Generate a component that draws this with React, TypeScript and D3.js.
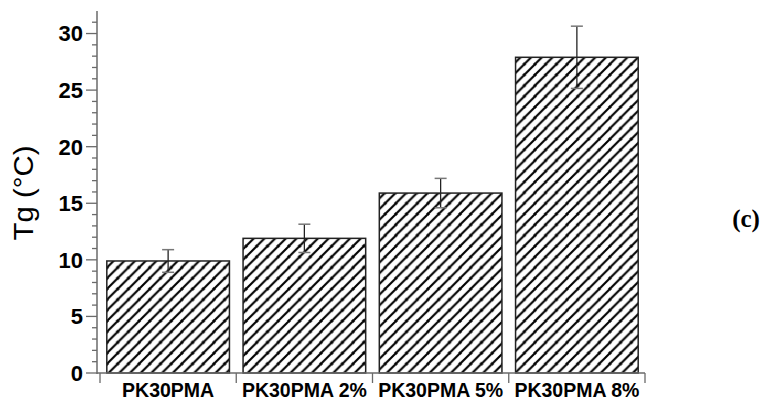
import { useEffect, useRef } from "react";
import * as d3 from "d3";

const categories = ["PK30PMA", "PK30PMA 2%", "PK30PMA 5%", "PK30PMA 8%"];
const tgValues = [9.9, 11.9, 15.9, 27.9];
const tgErrors = [1.0, 1.25, 1.3, 2.75];
const yTicks = [0, 5, 10, 15, 20, 25, 30];

export default function App() {
  const svgRef = useRef<SVGSVGElement>(null);

  useEffect(() => {
    if (!svgRef.current) return;
    const svg = d3.select(svgRef.current);
    svg.selectAll("*").remove();

    const y = d3.scaleLinear().domain([0, 32]).range([373, 10.9]);
    const x = d3.scaleBand<string>()
      .domain(categories)
      .range([100, 645])
      .paddingInner(0.1)
      .paddingOuter(0.05);

    const sans = "'Liberation Sans', Arial, sans-serif";

    // hatch pattern
    const defs = svg.append("defs");
    const pat = defs.append("pattern")
      .attr("id", "hatch")
      .attr("patternUnits", "userSpaceOnUse")
      .attr("width", 10.7)
      .attr("height", 10.7);
    pat.append("rect").attr("width", 10.7).attr("height", 10.7).attr("fill", "#fff");
    pat.append("path")
      .attr("d", "M-2,2.7 L2.7,-2 M0,10.7 L10.7,0 M8,12.7 L12.7,8")
      .attr("stroke", "#000")
      .attr("stroke-width", 2.1);

    // bars
    svg.append("g")
      .selectAll("rect")
      .data(categories)
      .enter()
      .append("rect")
      .attr("x", d => x(d)!)
      .attr("y", (d, i) => y(tgValues[i]))
      .attr("width", x.bandwidth())
      .attr("height", (d, i) => y(0) - y(tgValues[i]))
      .attr("fill", "url(#hatch)")
      .attr("stroke", "#222")
      .attr("stroke-width", 1.5);

    // error bars
    const eb = svg.append("g");
    categories.forEach((c, i) => {
      const cx = x(c)! + x.bandwidth() / 2;
      const top = y(tgValues[i] + tgErrors[i]);
      const bot = y(tgValues[i] - tgErrors[i]);
      eb.append("line").attr("x1", cx).attr("x2", cx).attr("y1", top).attr("y2", bot)
        .attr("stroke", "#222").attr("stroke-width", 1.3);
      [top, bot].forEach(v => {
        eb.append("line").attr("x1", cx - 6).attr("x2", cx + 6).attr("y1", v).attr("y2", v)
          .attr("stroke", "#777").attr("stroke-width", 1.5);
      });
    });

    // y axis
    const axisColor = "#6a6a6a";
    const ax = svg.append("g");
    ax.append("line").attr("x1", 97).attr("x2", 97).attr("y1", y(32)).attr("y2", y(0) + 1)
      .attr("stroke", axisColor).attr("stroke-width", 1.5);
    d3.range(0, 32).forEach(v => {
      const major = v % 5 === 0;
      ax.append("line")
        .attr("x1", major ? 86 : 92).attr("x2", 97)
        .attr("y1", y(v)).attr("y2", y(v))
        .attr("stroke", axisColor).attr("stroke-width", 1.3);
    });
    ax.selectAll("text.yt")
      .data(yTicks)
      .enter()
      .append("text")
      .attr("class", "yt")
      .attr("x", 83)
      .attr("y", d => y(d))
      .attr("dy", "0.36em")
      .attr("text-anchor", "end")
      .attr("font-family", sans)
      .attr("font-weight", "bold")
      .attr("font-size", 22)
      .attr("fill", "#000")
      .text(d => d);

    // x axis
    ax.append("line").attr("x1", 97).attr("x2", 645).attr("y1", y(0)).attr("y2", y(0))
      .attr("stroke", axisColor).attr("stroke-width", 1.5);
    const gap = (x.step() - x.bandwidth()) / 2;
    const bounds = categories.map(c => x(c)! - gap)
      .concat([x(categories[categories.length - 1])! + x.bandwidth() + gap]);
    bounds.forEach(b => {
      ax.append("line").attr("x1", b).attr("x2", b).attr("y1", y(0)).attr("y2", y(0) + 10)
        .attr("stroke", axisColor).attr("stroke-width", 1.3);
    });
    ax.selectAll("text.xt")
      .data(categories)
      .enter()
      .append("text")
      .attr("class", "xt")
      .attr("x", d => x(d)! + x.bandwidth() / 2)
      .attr("y", 397)
      .attr("text-anchor", "middle")
      .attr("font-family", sans)
      .attr("font-weight", "bold")
      .attr("font-size", 19.5)
      .attr("fill", "#000")
      .text(d => d);

    // y label
    svg.append("text")
      .attr("transform", "translate(33,193) rotate(-90)")
      .attr("text-anchor", "middle")
      .attr("font-family", sans)
      .attr("font-size", 27)
      .attr("textLength", 95)
      .attr("lengthAdjust", "spacingAndGlyphs")
      .attr("fill", "#000")
      .text("Tg (°C)");

    // panel label
    svg.append("text")
      .attr("x", 746)
      .attr("y", 227)
      .attr("text-anchor", "middle")
      .attr("font-family", "'Liberation Serif', serif")
      .attr("font-weight", "bold")
      .attr("font-size", 25)
      .attr("fill", "#000")
      .text("(c)");
  }, []);

  return (
    <svg
      ref={svgRef}
      width={762}
      height={406}
      style={{ position: "absolute", left: 0, top: 0, display: "block", background: "#fff" }}
    />
  );
}
